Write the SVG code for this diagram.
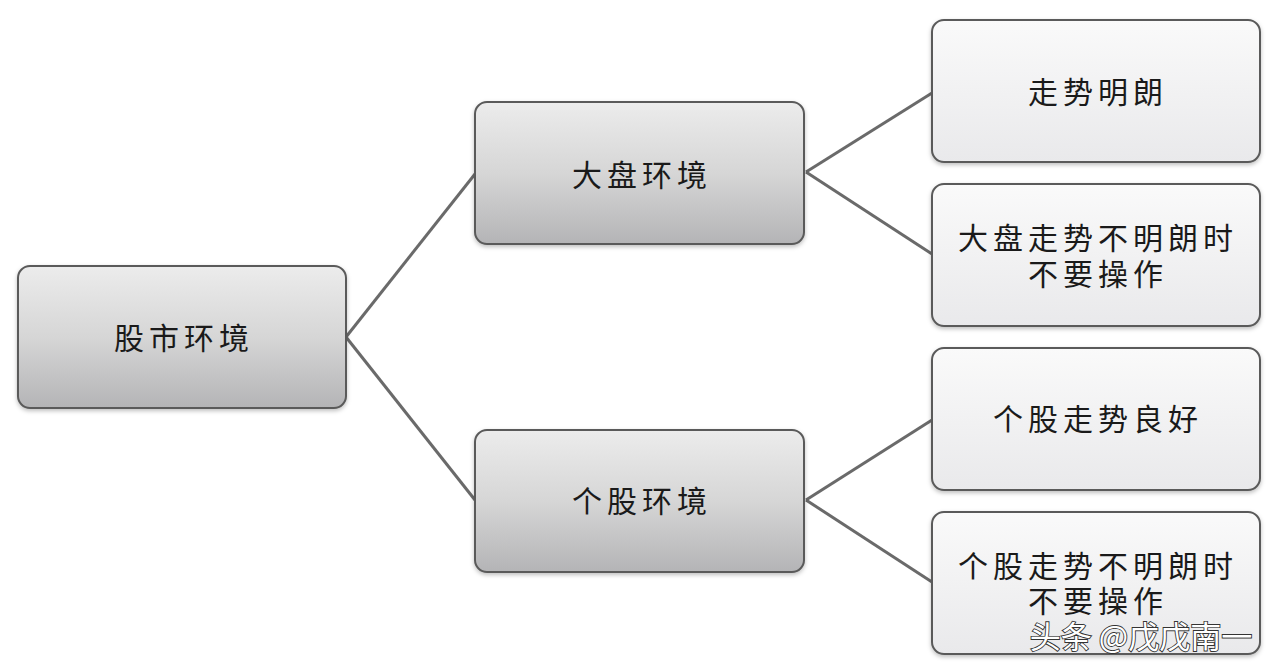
<svg xmlns="http://www.w3.org/2000/svg" width="1280" height="672" viewBox="0 0 1280 672">
<defs>
<linearGradient id="gDark" x1="0" y1="0" x2="0" y2="1">
<stop offset="0" stop-color="#ececec"/>
<stop offset="0.5" stop-color="#d6d6d6"/>
<stop offset="1" stop-color="#b4b4b6"/>
</linearGradient>
<linearGradient id="gLight" x1="0" y1="0" x2="0" y2="1">
<stop offset="0" stop-color="#fafafa"/>
<stop offset="1" stop-color="#e9e9eb"/>
</linearGradient>
<filter id="sh" x="-5%" y="-5%" width="110%" height="115%">
<feDropShadow dx="0" dy="2" stdDeviation="2" flood-color="#000" flood-opacity="0.25"/>
</filter>
</defs>
<style>
.box{stroke:#5a5a5a;stroke-width:2;filter:url(#sh)}
.dark{fill:url(#gDark)}
.light{fill:url(#gLight)}
.t{font-family:"Noto Sans CJK SC","Noto Sans",sans-serif;font-size:30px;fill:#1a1a1a;text-anchor:middle;dominant-baseline:central;letter-spacing:5px}
.wm{font-family:"Noto Sans CJK SC","Noto Sans",sans-serif;font-size:31px;fill:#ffffff;stroke:#333;stroke-width:1.8;paint-order:stroke;text-anchor:middle;dominant-baseline:central}
.c{stroke:#6a6a6a;stroke-width:3;fill:none}
</style>
<rect width="1280" height="672" fill="#ffffff"/>
<g id="connectors">
<path class="c" d="M346,337 L475,174"/>
<path class="c" d="M346,337 L475,500"/>
<path class="c" d="M806,172 L932,93"/>
<path class="c" d="M806,172 L932,254"/>
<path class="c" d="M806,500 L932,420"/>
<path class="c" d="M806,500 L932,582"/>
</g>
<g id="root">
<rect class="box dark" x="18" y="266" width="328" height="142" rx="12"/>
<text class="t" x="184" y="336">股市环境</text>
</g>
<g id="dapan">
<rect class="box dark" x="475" y="102" width="329" height="142" rx="12"/>
<text class="t" x="642" y="173">大盘环境</text>
</g>
<g id="gegu">
<rect class="box dark" x="475" y="430" width="329" height="142" rx="12"/>
<text class="t" x="642" y="499">个股环境</text>
</g>
<g id="leaf1">
<rect class="box light" x="932" y="20" width="328" height="142" rx="12"/>
<text class="t" x="1098" y="90">走势明朗</text>
</g>
<g id="leaf2">
<rect class="box light" x="932" y="184" width="328" height="142" rx="12"/>
<text class="t" x="1098" y="236">大盘走势不明朗时</text>
<text class="t" x="1098" y="272">不要操作</text>
</g>
<g id="leaf3">
<rect class="box light" x="932" y="348" width="328" height="142" rx="12"/>
<text class="t" x="1098" y="417">个股走势良好</text>
</g>
<g id="leaf4">
<rect class="box light" x="932" y="512" width="328" height="142" rx="12"/>
<text class="t" x="1098" y="564">个股走势不明朗时</text>
<text class="t" x="1098" y="599">不要操作</text>
</g>
<text class="wm" x="1141" y="634">头条 @戊戊南一</text>
</svg>
